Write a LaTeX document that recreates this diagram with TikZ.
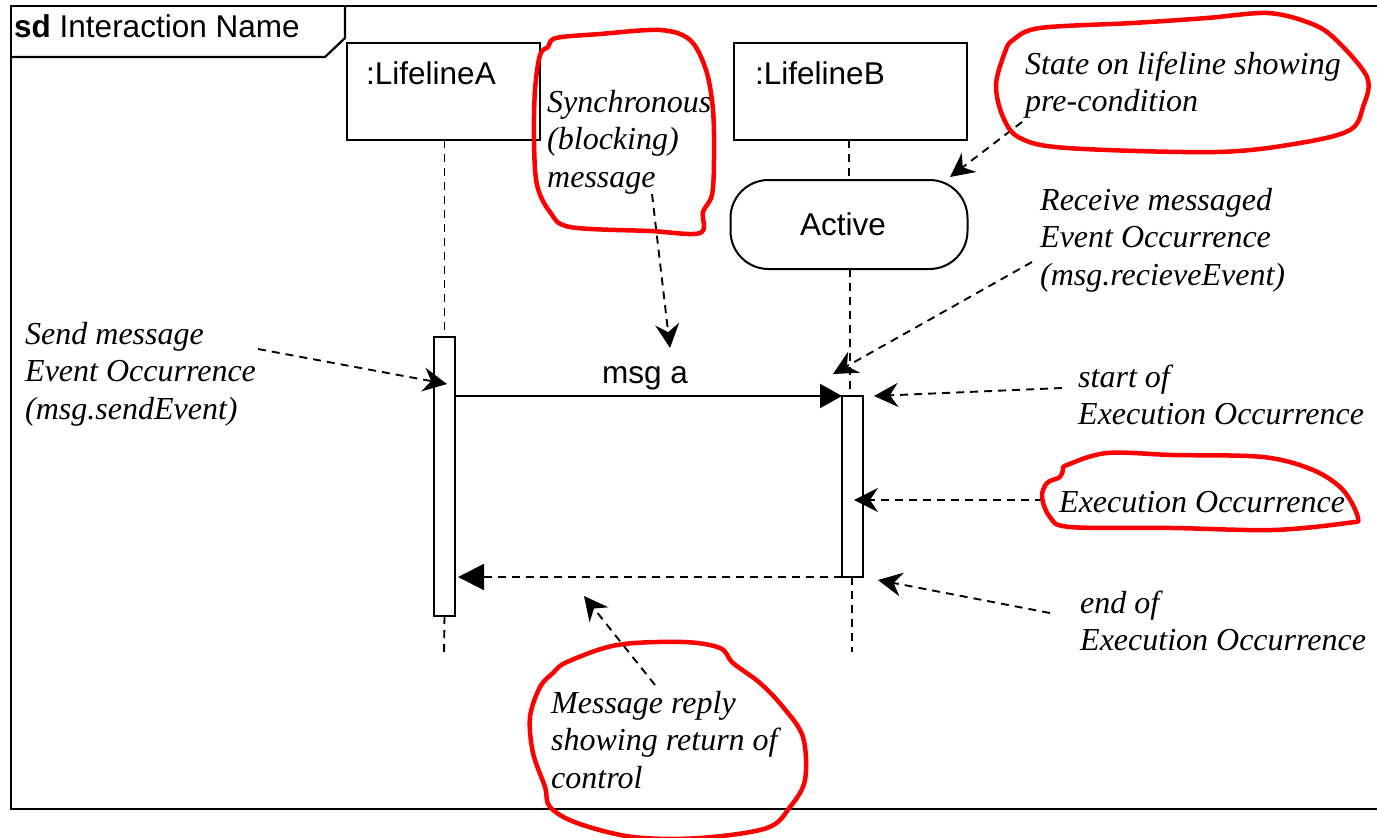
\documentclass[tikz,border=0pt]{standalone}
\usepackage{fontspec}
\setmainfont{Liberation Serif}
\setsansfont{Liberation Sans}
\usetikzlibrary{arrows.meta}
\newcommand\notefont{\fontsize{32}{37.5}\selectfont\itshape}
\newcommand\sanslabelfont{\fontsize{31.5}{36}\selectfont\sffamily}
\newcommand\notelines[1]{\begin{tabular}[t]{@{}l@{}}#1\end{tabular}}
\begin{document}
\begin{tikzpicture}[x=1pt,y=-1pt,
  frame/.style={line width=2.2pt},
  box/.style={draw, line width=2pt, inner sep=0pt, outer sep=0pt},
  lifeline/.style={line width=1.9pt, dash pattern=on 8pt off 6pt},
  msg/.style={line width=1.9pt, -{Triangle[length=22pt,width=24pt]}},
  reply/.style={line width=1.9pt, dash pattern=on 8pt off 6pt, -{Triangle[length=26pt,width=26pt]}},
  pointer/.style={line width=1.9pt, dash pattern=on 8pt off 6pt, -{Stealth[length=24pt,width=24pt,inset=8pt]}},
  note/.style={font=\notefont, anchor=base west, inner sep=0pt},
  sans/.style={font=\sanslabelfont, inner sep=0pt},
  scribble/.style={draw=red, line width=4.5pt, line join=round}]
\useasboundingbox (0,0) rectangle (1377,838);
\fill[white] (0,0) rectangle (1377,838);
\clip (0,0) rectangle (1377,838);

% frame
\draw[frame] (1400,6) -- (11,6) -- (11,809) -- (1400,809);
\draw[frame] (11,57) -- (325,57) -- (345,38) -- (345,6);
\node[sans, anchor=base west] (title) at (14,37) {\textbf{sd} Interaction Name};

% lifeline heads
\node[box, minimum width=193pt, minimum height=97pt, anchor=north west] (la) at (347,43) {};
\node[sans, anchor=base west] (laname) at (366,84) {:LifelineA};
\node[box, minimum width=233pt, minimum height=97pt, anchor=north west] (lb) at (734,43) {};
\node[sans, anchor=base west] (lbname) at (755,84) {:LifelineB};

% state
\node[box, rounded corners=38pt, minimum width=237pt, minimum height=89pt, font=\sanslabelfont] (active) at (849,224.5) {Active\hspace*{12pt}};

% activations
\node[box, minimum width=21pt, minimum height=279pt, anchor=north west] (actA) at (434,337) {};
\node[box, minimum width=21pt, minimum height=181pt, anchor=north west] (actB) at (842,396) {};

% lifelines
\coordinate (endA) at (444,655);
\coordinate (endB) at (852,652);
\draw[lifeline] (la.south -| actA.north) -- (actA.north);
\draw[lifeline] (actA.south) -- (endA);
\draw[lifeline] (active.north |- lb.south) -- (active.north);
\draw[lifeline] (active.south -| 850,0) -- (actB.north -| 850,0);
\draw[lifeline] (actB.south -| endB) -- (endB);

% messages
\draw[msg] (actA.east |- actB.north) -- (actB.north west);
\node[sans, anchor=base] (msga) at (645,383) {msg a};
\draw[reply] (actB.south west) -- ([xshift=3pt]actA.east |- actB.south);

% notes
\node[note] (nsend) at (25,344) {\notelines{Send message\\Event Occurrence\\(msg.sendEvent)}};
\node[note] (nsync) at (547,112) {\notelines{Synchronous\\(blocking)\\message}};
\node[note] (nstate) at (1025,74) {\notelines{State on lifeline showing\\pre-condition}};
\node[note] (nrecv) at (1040,210) {\notelines{Receive messaged\\Event Occurrence\\(msg.recieveEvent)}};
\node[note] (nstart) at (1078,387) {\notelines{start of\\Execution Occurrence}};
\node[note] (nexec) at (1059,512) {Execution Occurrence};
\node[note] (nend) at (1080,613) {\notelines{end of\\Execution Occurrence}};
\node[note] (nreply) at (551,713) {\notelines{Message reply\\showing return of\\control}};

% pointer arrows
\coordinate (tSend) at (258,349);  \coordinate (hSend) at (447,384);
\coordinate (tSync) at (652,194);  \coordinate (hSync) at (670,348);
\coordinate (tState) at (1022,122); \coordinate (hState) at (950,177);
\coordinate (tRecv) at (1032,262); \coordinate (hRecv) at (833,374);
\coordinate (tStart) at (1062,388); \coordinate (hStart) at (874,396);
\coordinate (tExec) at (1043,500); \coordinate (hExec) at (854,500);
\coordinate (tEnd) at (1050,613); \coordinate (hEnd) at (878,580);
\coordinate (tReply) at (655,685); \coordinate (hReply) at (584,596);
\draw[pointer] (tSend) -- (hSend);
\draw[pointer] (tSync) -- (hSync);
\draw[pointer] (tState) -- (hState);
\draw[pointer] (tRecv) -- (hRecv);
\draw[pointer] (tStart) -- (hStart);
\draw[pointer] (tExec) -- (hExec);
\draw[pointer] (tEnd) -- (hEnd);
\draw[pointer] (tReply) -- (hReply);

% red scribbles
\draw[scribble] plot[smooth cycle, tension=0.55] coordinates {(548,47) (556,38) (600,34) (660,30) (690,40) (706,70) (713,110) (714,160) (712,195) (703,212) (700,233) (650,231) (570,227) (550,212) (537,185) (534,140) (535,90) (540,55)};
\draw[scribble] plot[smooth cycle, tension=0.55] coordinates {(1013,40) (1040,28) (1133,23) (1207,18) (1267,13) (1307,22) (1333,37) (1367,77) (1363,107) (1350,130) (1300,143) (1217,152) (1067,148) (1020,138) (1003,117) (996,85) (1005,52)};
\draw[scribble] plot[smooth cycle, tension=0.55] coordinates {(1067,465) (1107,453) (1173,455) (1263,457) (1313,470) (1343,490) (1358,518) (1347,523) (1273,530) (1173,528) (1070,527) (1050,517) (1042,497) (1047,483) (1060,477) (1063,470)};
\draw[scribble] plot[smooth cycle, tension=0.55] coordinates {(567,662) (617,645) (683,642) (720,648) (733,663) (760,683) (783,707) (803,737) (805,780) (790,807) (767,828) (700,838) (633,837) (577,823) (550,807) (545,787) (533,753) (530,717) (540,687) (553,673)};
\end{tikzpicture}
\end{document}
